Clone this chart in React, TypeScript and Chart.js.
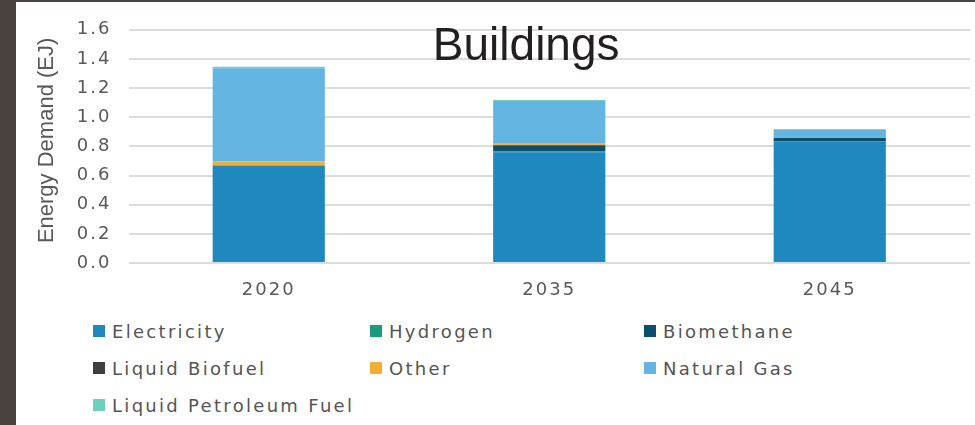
import React, { useEffect, useRef } from "react";
import { Chart, registerables } from "chart.js";

Chart.register(...registerables);

const categories = ["2020", "2035", "2045"];
const seriesNames = [
  "Electricity",
  "Hydrogen",
  "Biomethane",
  "Liquid Biofuel",
  "Other",
  "Natural Gas",
  "Liquid Petroleum Fuel",
];
const electricity = [0.667, 0.76, 0.83];
const hydrogen = [0, 0.006, 0.003];
const biomethane = [0, 0.04, 0.025];
const liquidBiofuel = [0.002, 0.004, 0.002];
const other = [0.029, 0.008, 0.002];
const naturalGas = [0.638, 0.294, 0.053];
const liquidPetroleumFuel = [0.01, 0.006, 0.004];
const seriesColors = ["#1f88be", "#1a9a7e", "#0b4f6e", "#3f3f3f", "#f2b134", "#64b5e1", "#6fcfbf"];
const yTicks = [0, 0.2, 0.4, 0.6, 0.8, 1.0, 1.2, 1.4, 1.6];
const chartTitle = "Buildings";
const yAxisTitle = "Energy Demand (EJ)";

const seriesValues = [electricity, hydrogen, biomethane, liquidBiofuel, other, naturalGas, liquidPetroleumFuel];

const TICK_FONT = "'DejaVu Sans', sans-serif";

export default function App() {
  const canvasRef = useRef<HTMLCanvasElement | null>(null);

  useEffect(() => {
    if (!canvasRef.current) return;
    const spacingPlugin = {
      id: "spacing",
      beforeDraw(chart: any) {
        chart.ctx.letterSpacing = "2px";
      },
    };
    const titlePlugin = {
      id: "overlayTitle",
      afterDraw(chart: any) {
        const ctx = chart.ctx;
        const area = chart.chartArea;
        ctx.save();
        ctx.letterSpacing = "0px";
        ctx.font = "46px 'Liberation Sans', Arial, sans-serif";
        ctx.fillStyle = "#231f20";
        ctx.textAlign = "center";
        ctx.textBaseline = "alphabetic";
        ctx.fillText(chartTitle, chart.width * 0.532, 58);
        ctx.restore();

        ctx.save();
        ctx.letterSpacing = "0px";
        ctx.font = "22px 'Liberation Sans', Arial, sans-serif";
        ctx.fillStyle = "#595959";
        ctx.textAlign = "center";
        ctx.textBaseline = "middle";
        ctx.translate(31, (area.top + area.bottom) / 2 - 6);
        ctx.rotate(-Math.PI / 2);
        ctx.fillText(yAxisTitle, 0, 0);
        ctx.restore();
      },
    };
    const chart = new Chart(canvasRef.current, {
      type: "bar",
      data: {
        labels: categories,
        datasets: seriesNames.map((name, i) => ({
          label: name,
          data: seriesValues[i],
          backgroundColor: seriesColors[i],
          borderWidth: 0,
          categoryPercentage: 1,
          barPercentage: 0.4,
        })),
      },
      options: {
        animation: false,
        responsive: true,
        maintainAspectRatio: false,
        layout: { padding: { top: 18, right: 5, left: 0, bottom: 0 } },
        plugins: {
          legend: { display: false },
          title: { display: false },
          tooltip: { enabled: false },
        },
        scales: {
          x: {
            stacked: true,
            grid: { display: false, drawTicks: false },
            border: { display: false },
            ticks: {
              color: "#595959",
              font: { family: TICK_FONT, size: 18 },
              padding: 17,
            },
            afterFit(scale: any) {
              scale.height = 39;
            },
          },
          y: {
            stacked: true,
            min: 0,
            max: 1.6,
            afterBuildTicks(scale: any) {
              scale.ticks = yTicks.map((v) => ({ value: v }));
            },
            grid: { color: "#dcdcdc", lineWidth: 2, drawTicks: false },
            border: { display: false },
            ticks: {
              color: "#595959",
              font: { family: TICK_FONT, size: 18 },
              padding: 17,
              callback: (v: any) => Number(v).toFixed(1),
            },
            title: { display: false },
            afterFit(scale: any) {
              scale.width = 112.5;
            },
          },
        },
      },
      plugins: [spacingPlugin, titlePlugin],
    });
    return () => chart.destroy();
  }, []);

  const colX = [93, 370, 644];
  const rowY = [331, 368, 405];

  return (
    <div
      style={{
        position: "absolute",
        left: 0,
        top: 0,
        width: 975,
        height: 425,
        background: "#4a423f",
        overflow: "hidden",
      }}
    >
      <div
        style={{
          position: "absolute",
          left: 16,
          top: 2,
          width: 959,
          height: 423,
          background: "#ffffff",
        }}
      >
        <div style={{ position: "absolute", left: 0, top: 0, width: 959, height: 300 }}>
          <canvas ref={canvasRef} />
        </div>
      </div>
      {seriesNames.map((name, i) => (
        <div
          key={name}
          style={{
            position: "absolute",
            left: colX[i % 3],
            top: rowY[Math.floor(i / 3)] - 12,
            height: 24,
            display: "flex",
            alignItems: "center",
            fontFamily: TICK_FONT,
            fontSize: 18,
            letterSpacing: "2.3px",
            color: "#555555",
            whiteSpace: "nowrap",
          }}
        >
          <span
            style={{
              display: "inline-block",
              width: 12,
              height: 12,
              background: seriesColors[i],
              marginRight: 7,
            }}
          />
          <span>{name}</span>
        </div>
      ))}
    </div>
  );
}
